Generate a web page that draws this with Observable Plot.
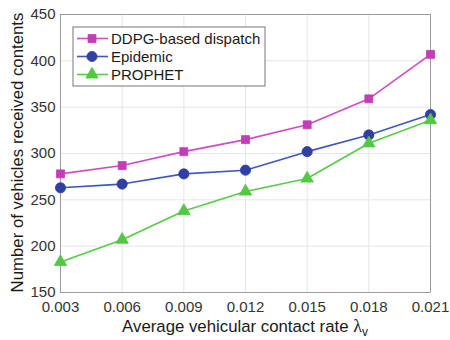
<!DOCTYPE html>
<html>
<head>
<meta charset="utf-8">
<script src="https://cdn.jsdelivr.net/npm/d3@7"></script>
<script src="https://cdn.jsdelivr.net/npm/@observablehq/plot@0.6"></script>
<style>
  html, body { margin: 0; padding: 0; background: #fff; }
  #chart { width: 450px; height: 340px; }
  svg { font-family: "Liberation Sans", Arial, Helvetica, sans-serif; }
</style>
</head>
<body>
<div id="chart"></div>
<script>
const rates = [0.003, 0.006, 0.009, 0.012, 0.015, 0.018, 0.021];
const seriesNames = ["DDPG-based dispatch", "Epidemic", "PROPHET"];
const ddpg = [278, 287, 302, 315, 331, 359, 407];
const epidemic = [263, 267, 278, 282, 302, 320, 342];
const prophet = [183, 207, 238, 259, 273, 311, 336];
const xTicks = [0.003, 0.006, 0.009, 0.012, 0.015, 0.018, 0.021];
const yTicks = [150, 200, 250, 300, 350, 400, 450];

const colors = {"DDPG-based dispatch": "#c53cb9", "Epidemic": "#2f3fa3", "PROPHET": "#52c843"};
const lineColors = {"DDPG-based dispatch": "#cf4cc6", "Epidemic": "#3e57c0", "PROPHET": "#55cc45"};
const symbols = {"DDPG-based dispatch": "square", "Epidemic": "circle", "PROPHET": "triangle"};
const sizes = {"DDPG-based dispatch": 4.5, "Epidemic": 5.1, "PROPHET": 4.6};

const allValues = [ddpg, epidemic, prophet];
const data = [];
seriesNames.forEach((s, i) => rates.forEach((r, j) => data.push({series: s, rate: r, value: allValues[i][j]})));

const FONT = '"Liberation Sans", Arial, sans-serif';

const plot = Plot.plot({
  width: 450,
  height: 340,
  marginLeft: 60,
  marginRight: 20,
  marginTop: 14,
  marginBottom: 48,
  style: {fontFamily: FONT, fontSize: "14px", color: "#262626", background: "#fff"},
  x: {domain: [0.003, 0.021], ticks: xTicks, tickFormat: d3.format(".3f"), label: null},
  y: {domain: [150, 450], ticks: yTicks, label: null},
  marks: [
    Plot.gridX(xTicks, {stroke: "#e6e6e6", strokeOpacity: 1}),
    Plot.gridY(yTicks, {stroke: "#e6e6e6", strokeOpacity: 1}),
    Plot.frame({stroke: "#262626", strokeWidth: 0.7, strokeOpacity: 0.55}),
    Plot.axisX(xTicks, {tickSize: 0, tickPadding: 9, fontSize: 15, fill: "#333", tickFormat: d3.format(".3f")}),
    Plot.axisY(yTicks, {tickSize: 0, tickPadding: 5, fontSize: 15, fill: "#333"}),
    ...seriesNames.map(s => Plot.line(data.filter(d => d.series === s), {x: "rate", y: "value", stroke: lineColors[s], strokeWidth: 1.6})),
    ...seriesNames.map(s => Plot.dot(data.filter(d => d.series === s), {x: "rate", y: "value", symbol: () => symbols[s], r: sizes[s], fill: colors[s], stroke: colors[s], strokeWidth: 0.8})),
    Plot.text(["Number of vehicles received contents"], {frameAnchor: "left", dx: -43, dy: -1, rotate: -90, textAnchor: "middle", fontSize: 16.8, fill: "#1a1a1a", text: d => d}),
  ]
});

// Legend drawn inside the SVG using the chart's series definitions
const svg = d3.select(plot);
const lg = svg.append("g").attr("font-family", FONT).attr("text-anchor", "start");
lg.append("rect").attr("x", 73).attr("y", 27).attr("width", 192).attr("height", 59)
  .attr("fill", "#fff").attr("stroke", "#555").attr("stroke-width", 0.8);
const symGen = {square: d3.symbolSquare, circle: d3.symbolCircle, triangle: d3.symbolTriangle};
seriesNames.forEach((s, i) => {
  const y = 38.5 + i * 18;
  lg.append("line").attr("x1", 77).attr("x2", 108).attr("y1", y).attr("y2", y)
    .attr("stroke", lineColors[s]).attr("stroke-width", 1.6);
  const r = sizes[s];
  lg.append("path").attr("transform", `translate(92,${y})`)
    .attr("d", d3.symbol(symGen[symbols[s]], Math.PI * r * r)())
    .attr("fill", colors[s]).attr("stroke", colors[s]).attr("stroke-width", 0.8);
  lg.append("text").attr("x", 111).attr("y", y).attr("dy", "0.35em")
    .attr("font-size", 15).attr("fill", "#1a1a1a").text(s);
});
// x-axis title
const xt = svg.append("text").attr("x", 245).attr("y", 332).attr("text-anchor", "middle")
  .attr("font-family", FONT).attr("font-size", 16.8).attr("fill", "#1a1a1a");
xt.append("tspan").text("Average vehicular contact rate ");
xt.append("tspan").attr("font-family", "serif").attr("font-size", 18).text("λ");
xt.append("tspan").attr("font-size", 12).attr("dy", 4).text("v");

document.getElementById("chart").appendChild(plot);
</script>
</body>
</html>
